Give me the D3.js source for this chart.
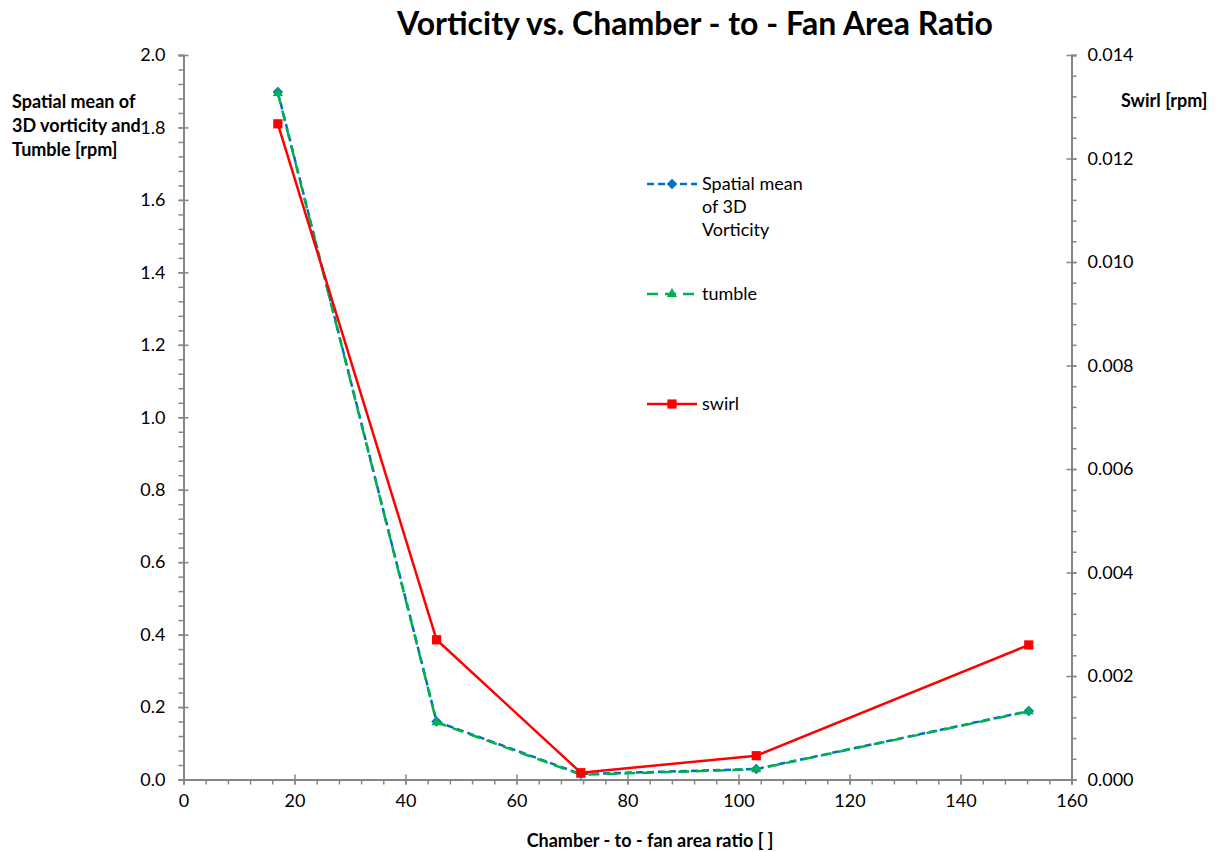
<!DOCTYPE html>
<html>
<head>
<meta charset="utf-8">
<script src="https://cdn.jsdelivr.net/npm/d3@7"></script>
<style>
  body { margin: 0; background: #fff; }
  text { font-family: Lato, "Open Sans", sans-serif; fill: #000; }
</style>
</head>
<body>
<div id="chart"></div>
<script>
// area ratios on the x axis
const ratios = [17.0, 45.6, 71.6, 103.2, 152.3];
// left axis series
const vorticity = [1.898, 0.160, 0.015, 0.029, 0.189];
const tumble = [1.895, 0.158, 0.013, 0.028, 0.188];
// right axis series
const swirl = [0.01267, 0.0027, 0.000131, 0.00046, 0.0026];

const xTicks = [0, 20, 40, 60, 80, 100, 120, 140, 160];
const yTicks = [0, 0.2, 0.4, 0.6, 0.8, 1.0, 1.2, 1.4, 1.6, 1.8, 2.0];
const y2Ticks = [0, 0.002, 0.004, 0.006, 0.008, 0.010, 0.012, 0.014];

const width = 1220, height = 852;
const margin = {top: 55, right: 148.5, bottom: 72.5, left: 183.5};
const innerW = width - margin.left - margin.right;
const innerH = height - margin.top - margin.bottom;
const axisColor = "#868686";

const svg = d3.select("#chart").append("svg")
    .attr("width", width)
    .attr("height", height);

const g = svg.append("g")
    .attr("transform", "translate(" + margin.left + "," + margin.top + ")");

const xScale = d3.scaleLinear().domain([0, 160]).range([0, innerW]);
const yScale = d3.scaleLinear().domain([0, 2.0]).range([innerH, 0]);
const y2Scale = d3.scaleLinear().domain([0, 0.014]).range([innerH, 0]);

// evenly spaced minor tick values from 0 to max
function minorTicks(step, max) {
    return d3.range(0, max + step / 2, step).map(v => +v.toFixed(6));
}

const xAxisG = g.append("g").attr("transform", "translate(0," + innerH + ")");
xAxisG.call(d3.axisBottom(xScale).tickValues(minorTicks(4, 160)).tickSize(5).tickFormat(""));
xAxisG.append("g").call(d3.axisBottom(xScale).tickValues(xTicks).tickSizeInner(5).tickSizeOuter(0).tickFormat(""))
    .selectAll(".tick line").attr("y1", -5);
xAxisG.append("g").call(d3.axisBottom(xScale).tickValues(xTicks).tickSize(0).tickPadding(15).tickFormat(d3.format("d")));

const yAxisG = g.append("g");
yAxisG.call(d3.axisLeft(yScale).tickValues(minorTicks(0.04, 2.0)).tickSize(5).tickFormat(""));
yAxisG.append("g").call(d3.axisLeft(yScale).tickValues(yTicks).tickSizeInner(5).tickSizeOuter(0).tickFormat(""))
    .selectAll(".tick line").attr("x1", 5);
yAxisG.append("g").call(d3.axisLeft(yScale).tickValues(yTicks).tickSize(0).tickPadding(18).tickFormat(d3.format(".1f")));

const y2AxisG = g.append("g").attr("transform", "translate(" + innerW + ",0)");
y2AxisG.call(d3.axisRight(y2Scale).tickValues(minorTicks(0.0004, 0.014)).tickSize(5).tickFormat(""));
y2AxisG.append("g").call(d3.axisRight(y2Scale).tickValues(y2Ticks).tickSizeInner(5).tickSizeOuter(0).tickFormat(""))
    .selectAll(".tick line").attr("x1", -5);
y2AxisG.append("g").call(d3.axisRight(y2Scale).tickValues(y2Ticks).tickSize(0).tickPadding(16).tickFormat(d3.format(".3f")));

g.selectAll(".domain").attr("stroke", axisColor).attr("stroke-width", 2);
g.selectAll(".tick line").attr("stroke", axisColor).attr("stroke-width", 1.5);
g.selectAll(".tick text").style("font-family", "Lato, 'Open Sans', sans-serif").style("font-size", "18px").attr("fill", "#000");
// keep only one domain line per axis
[xAxisG, yAxisG, y2AxisG].forEach(ax => {
    ax.selectAll("g .domain").filter(function() { return this.parentNode !== ax.node(); }).remove();
});

const series = [
    {name: "vorticity", values: vorticity, scale: yScale, color: "#0070C0", dash: "7,4", marker: "diamond"},
    {name: "tumble", values: tumble, scale: yScale, color: "#00B050", dash: "11,7", marker: "triangle"},
    {name: "swirl", values: swirl, scale: y2Scale, color: "#FF0000", dash: null, marker: "square"}
];

const symbolOf = {
    diamond: d3.symbol().type(d3.symbolDiamond2).size(70),
    triangle: d3.symbol().type(d3.symbolTriangle).size(45),
    square: d3.symbol().type(d3.symbolSquare).size(85)
};

series.forEach(s => {
    const pts = ratios.map((r, i) => [r, s.values[i]]);
    const line = d3.line().x(d => xScale(d[0])).y(d => s.scale(d[1]));
    g.append("path")
        .datum(pts)
        .attr("fill", "none")
        .attr("stroke", s.color)
        .attr("stroke-width", 2.5)
        .attr("stroke-dasharray", s.dash)
        .attr("d", line);
    g.selectAll(".marker-" + s.name)
        .data(pts)
        .join("path")
        .attr("class", "marker-" + s.name)
        .attr("transform", d => "translate(" + xScale(d[0]) + "," + s.scale(d[1]) + ")")
        .attr("d", symbolOf[s.marker])
        .attr("fill", s.color);
});

// legend
const legendItems = [
    {s: series[0], y: 184, lines: ["Spatial mean", "of 3D", "Vorticity"]},
    {s: series[1], y: 294, lines: ["tumble"]},
    {s: series[2], y: 404, lines: ["swirl"]}
];
const legend = svg.append("g");
legendItems.forEach(item => {
    legend.append("line")
        .attr("x1", 647).attr("x2", 697)
        .attr("y1", item.y).attr("y2", item.y)
        .attr("stroke", item.s.color)
        .attr("stroke-width", 2.5)
        .attr("stroke-dasharray", item.s.dash);
    legend.append("path")
        .attr("transform", "translate(672," + item.y + ")")
        .attr("d", symbolOf[item.s.marker])
        .attr("fill", item.s.color);
    const t = legend.append("text")
        .attr("x", 702).attr("y", item.y + 6)
        .style("font-size", "18px");
    item.lines.forEach((l, i) => {
        t.append("tspan").attr("x", 702).attr("dy", i === 0 ? 0 : 23).text(l);
    });
});

// titles
svg.append("text")
    .attr("x", 695).attr("y", 35)
    .attr("text-anchor", "middle")
    .style("font-size", "32px").style("font-weight", "bold")
    .text("Vorticity vs. Chamber - to - Fan Area Ratio");

const yLabel = svg.append("text")
    .attr("x", 12).attr("y", 108)
    .style("font-size", "18px").style("font-weight", "bold");
["Spatial mean of", "3D vorticity and", "Tumble [rpm]"].forEach((l, i) => {
    yLabel.append("tspan").attr("x", 12).attr("dy", i === 0 ? 0 : 24).text(l);
});

svg.append("text")
    .attr("x", 1121).attr("y", 107)
    .style("font-size", "18px").style("font-weight", "bold")
    .text("Swirl [rpm]");

svg.append("text")
    .attr("x", 650).attr("y", 847)
    .attr("text-anchor", "middle")
    .style("font-size", "18px").style("font-weight", "bold")
    .text("Chamber - to - fan area ratio [ ]");
</script>
</body>
</html>
